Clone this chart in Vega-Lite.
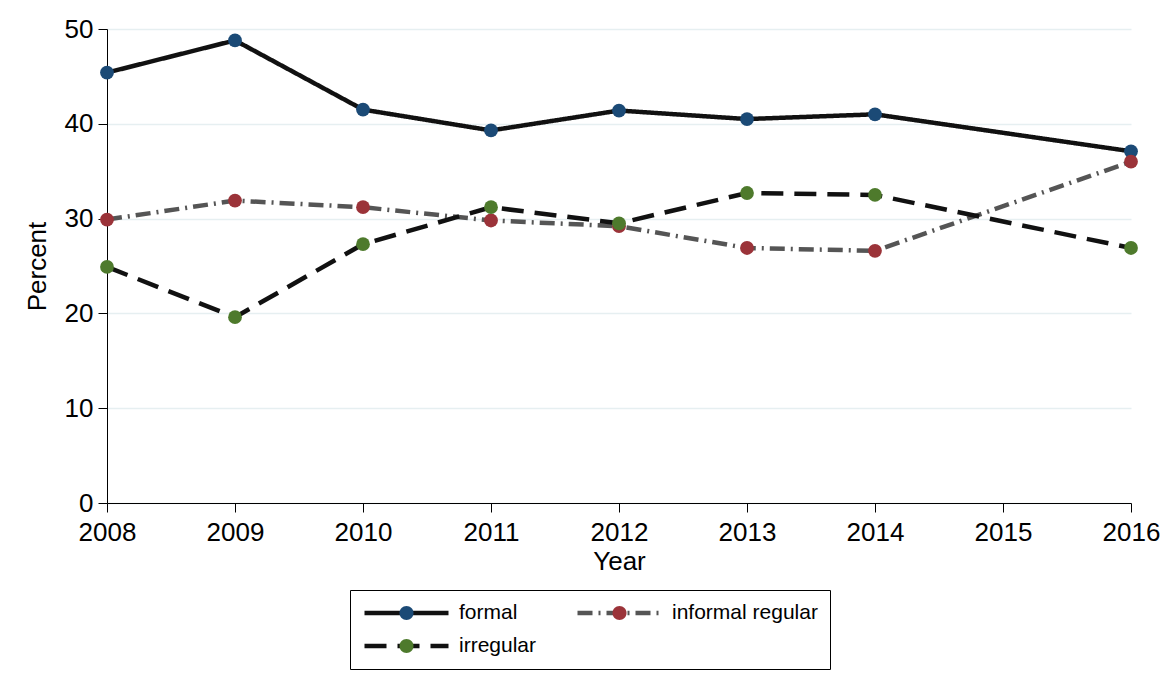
{
  "$schema": "https://vega.github.io/schema/vega-lite/v6.json",
  "width": 1024,
  "height": 474,
  "autosize": {"type": "none"},
  "padding": {"left": 107, "top": 29, "right": 40, "bottom": 192},
  "background": "white",
  "config": {
    "font": "Liberation Sans",
    "view": {"stroke": null},
    "axis": {"labelColor": "black", "titleColor": "black", "domainColor": "black", "tickColor": "black", "titleFontWeight": "normal"}
  },
  "data": {
    "values": [
      {"year": 2008, "series": "formal", "value": 45.4},
      {"year": 2009, "series": "formal", "value": 48.8},
      {"year": 2010, "series": "formal", "value": 41.5},
      {"year": 2011, "series": "formal", "value": 39.3},
      {"year": 2012, "series": "formal", "value": 41.4},
      {"year": 2013, "series": "formal", "value": 40.5},
      {"year": 2014, "series": "formal", "value": 41.0},
      {"year": 2016, "series": "formal", "value": 37.1},
      {"year": 2008, "series": "informal regular", "value": 29.9},
      {"year": 2009, "series": "informal regular", "value": 31.9},
      {"year": 2010, "series": "informal regular", "value": 31.2},
      {"year": 2011, "series": "informal regular", "value": 29.8},
      {"year": 2012, "series": "informal regular", "value": 29.2},
      {"year": 2013, "series": "informal regular", "value": 26.9},
      {"year": 2014, "series": "informal regular", "value": 26.6},
      {"year": 2016, "series": "informal regular", "value": 36.0},
      {"year": 2008, "series": "irregular", "value": 24.9},
      {"year": 2009, "series": "irregular", "value": 19.6},
      {"year": 2010, "series": "irregular", "value": 27.3},
      {"year": 2011, "series": "irregular", "value": 31.2},
      {"year": 2012, "series": "irregular", "value": 29.5},
      {"year": 2013, "series": "irregular", "value": 32.7},
      {"year": 2014, "series": "irregular", "value": 32.5},
      {"year": 2016, "series": "irregular", "value": 26.9}
    ]
  },
  "encoding": {
    "x": {
      "field": "year", "type": "quantitative",
      "scale": {"domain": [2008, 2016], "nice": false, "zero": false},
      "axis": {
        "values": [2008, 2009, 2010, 2011, 2012, 2013, 2014, 2015, 2016],
        "format": "d", "grid": false, "labelFontSize": 26, "tickSize": 9, "labelPadding": 7,
        "labelFlush": false, "labelOverlap": false,
        "title": "Year", "titleFontSize": 26, "titleX": 512, "titleY": 58, "titleBaseline": "middle"
      }
    },
    "y": {
      "field": "value", "type": "quantitative",
      "scale": {"domain": [0, 50], "nice": false},
      "axis": {
        "values": [0, 10, 20, 30, 40, 50], "grid": true, "gridColor": "#e6eff1", "gridWidth": 1.5,
        "labelFontSize": 26, "tickSize": 9, "labelPadding": 5,
        "title": "Percent", "titleFontSize": 26, "titleX": -70, "titleY": 237, "titleBaseline": "middle", "titleAngle": -90
      }
    }
  },
  "layer": [
    {
      "mark": {"type": "line", "strokeWidth": 4.5},
      "encoding": {
        "stroke": {
          "field": "series", "type": "nominal",
          "scale": {"domain": ["formal", "informal regular", "irregular"], "range": ["#111111", "#555555", "#111111"]},
          "legend": {
            "orient": "none", "legendX": 243, "legendY": 561, "columns": 2, "direction": "horizontal", "title": null,
            "symbolType": "stroke", "symbolSize": 7056, "symbolStrokeWidth": 4.5, "clipHeight": 22,
            "labelFontSize": 21, "labelColor": "black", "labelOffset": 8, "labelLimit": 400,
            "columnPadding": 38, "rowPadding": 11, "padding": 12, "strokeColor": "black"
          }
        },
        "strokeDash": {
          "field": "series", "type": "nominal",
          "scale": {"domain": ["formal", "informal regular", "irregular"], "range": [[1, 0], [15, 6, 2, 6], [22, 11]]},
          "legend": {
            "orient": "none", "legendX": 243, "legendY": 561, "columns": 2, "direction": "horizontal", "title": null,
            "symbolType": "stroke", "symbolSize": 7056, "symbolStrokeWidth": 4.5, "clipHeight": 22,
            "labelFontSize": 21, "labelColor": "black", "labelOffset": 8, "labelLimit": 400,
            "columnPadding": 38, "rowPadding": 11, "padding": 12, "strokeColor": "black"
          }
        }
      }
    },
    {
      "mark": {"type": "point", "filled": true, "size": 190, "opacity": 1, "strokeWidth": 0},
      "encoding": {
        "fill": {
          "field": "series", "type": "nominal",
          "scale": {"range": ["#1b4a76", "#9b3339", "#4e7a2c"]},
          "legend": {
            "orient": "none", "legendX": 243, "legendY": 561, "columns": 2, "direction": "horizontal", "title": null,
            "symbolType": "M-1,0M1,0M0.167,0A0.167,0.167,0,1,1,-0.167,0A0.167,0.167,0,1,1,0.167,0Z",
            "symbolSize": 7056, "symbolStrokeWidth": 4.5, "symbolStrokeColor": "transparent", "symbolOpacity": 1,
            "clipHeight": 22,
            "labelFontSize": 21, "labelOffset": 8, "labelOpacity": 0, "labelLimit": 400,
            "columnPadding": 38, "rowPadding": 11, "padding": 12
          }
        }
      }
    }
  ]
}
